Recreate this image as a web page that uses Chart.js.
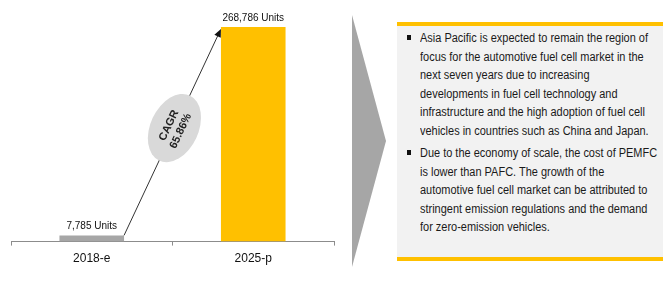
<!DOCTYPE html>
<html>
<head>
<meta charset="utf-8">
<script src="https://cdn.jsdelivr.net/npm/chart.js@4.4.1/dist/chart.umd.min.js"></script>
<style>
  body { margin: 0; background: #fff; }
  #wrap { position: relative; width: 670px; height: 281px; overflow: hidden; }
  #chartBox { position: absolute; left: 0; top: 0; width: 340px; height: 281px; }
  #chevron { position: absolute; left: 352px; top: 15px; width: 34px; height: 252px;
    background: #a6a6a6; clip-path: polygon(0 0, 100% 50%, 0 100%); }
  #panel { position: absolute; left: 397px; top: 22px; width: 266px; height: 231px;
    background: #f2f2f2; border-top: 4px solid #ffc000; border-bottom: 4px solid #ffc000; }
  .point { position: absolute; left: 23px; white-space: nowrap;
    font-family: 'Liberation Sans', Arial, sans-serif;
    font-size: 12px; line-height: 18.5px; color: #1a1a1a; }
  .point span { display: inline-block; transform-origin: 0 50%; }
  .point::before { content: ''; position: absolute; left: -13px; top: 6px; width: 4px; height: 5px; background: #111; }
</style>
</head>
<body>
<div id="wrap">
  <div id="chartBox"><canvas id="marketChart" width="340" height="281"></canvas></div>
  <div id="chevron"></div>
  <div id="panel"></div>
</div>
<script>
const categories = ['2018-e', '2025-p'];
const units = [7785, 268786];
const valueLabels = ['7,785 Units', '268,786 Units'];
const barColors = ['#a6a6a6', '#ffc000'];
const cagrLines = ['CAGR', '65.86%'];
const bulletOne = [
    'Asia Pacific is expected to remain the region of',
    'focus for the automotive fuel cell market in the',
    'next seven years due to increasing',
    'developments in fuel cell technology and',
    'infrastructure and the high adoption of fuel cell',
    'vehicles in countries such as China and Japan.'
];
const bulletTwo = [
    'Due to the economy of scale, the cost of PEMFC',
    'is lower than PAFC. The growth of the',
    'automotive fuel cell market can be attributed to',
    'stringent emission regulations and the demand',
    'for zero-emission vehicles.'
];

// text panel on the right, squeezed to the narrow face of the original
const panel = document.getElementById('panel');
const spans = [];
[[bulletOne, 3], [bulletTwo, 118]].forEach(([lines, top]) => {
    const div = document.createElement('div');
    div.className = 'point';
    div.style.top = top + 'px';
    div.innerHTML = lines.map(l => '<span>' + l + '</span>').join('<br>');
    panel.appendChild(div);
    spans.push(...div.querySelectorAll('span'));
});
const squeeze = 228 / spans[0].getBoundingClientRect().width;
spans.forEach(s => { s.style.transform = 'scaleX(' + squeeze + ')'; });

const annotate = {
    id: 'annotate',
    afterDatasetsDraw(chart) {
        const c = chart.ctx;
        const bars = chart.getDatasetMeta(0).data;

        // value labels
        c.save();
        c.font = '10px Arial, "Liberation Sans", sans-serif';
        c.fillStyle = '#111';
        c.textAlign = 'center';
        c.textBaseline = 'alphabetic';
        bars.forEach((bar, i) => {
            c.fillText(valueLabels[i], bar.x, bar.y - 6);
        });

        // growth arrow
        const b0 = bars[0], b1 = bars[1];
        const x0 = b0.x + b0.width / 2, y0 = b0.y;
        const x1 = b1.x - b1.width / 2, y1 = b1.y + 2;
        const ang = Math.atan2(y1 - y0, x1 - x0);
        c.strokeStyle = '#333';
        c.lineWidth = 1;
        c.beginPath();
        c.moveTo(x0, y0);
        c.lineTo(x1 - 7 * Math.cos(ang), y1 - 7 * Math.sin(ang));
        c.stroke();
        c.fillStyle = '#111';
        c.beginPath();
        c.moveTo(x1, y1);
        c.lineTo(x1 - 8 * Math.cos(ang) + 3.5 * Math.sin(ang), y1 - 8 * Math.sin(ang) - 3.5 * Math.cos(ang));
        c.lineTo(x1 - 8 * Math.cos(ang) - 3.5 * Math.sin(ang), y1 - 8 * Math.sin(ang) + 3.5 * Math.cos(ang));
        c.closePath();
        c.fill();

        // CAGR ellipse sitting on the arrow
        const cx = x0 + (x1 - x0) * 0.52, cy = y0 + (y1 - y0) * 0.52;
        c.fillStyle = '#d9d9d9';
        c.beginPath();
        c.ellipse(cx, cy, 36, 24, ang, 0, Math.PI * 2);
        c.fill();
        c.translate(cx, cy);
        c.rotate(ang);
        c.fillStyle = '#222';
        c.font = 'bold 11px Arial, "Liberation Sans", sans-serif';
        c.textBaseline = 'middle';
        c.fillText(cagrLines[0], 0, -6);
        c.fillText(cagrLines[1], 0, 7);
        c.restore();
    }
};

new Chart(document.getElementById('marketChart'), {
    type: 'bar',
    data: {
        labels: categories,
        datasets: [{
            data: units,
            backgroundColor: barColors,
            barPercentage: 0.8,
            categoryPercentage: 0.5
        }]
    },
    options: {
        responsive: false,
        animation: false,
        layout: { padding: { left: 11, right: 6, top: 10, bottom: 9 } },
        plugins: { legend: { display: false }, tooltip: { enabled: false } },
        scales: {
            y: { display: false, min: 0, max: 290000 },
            x: {
                border: { display: true, color: '#8c8c8c' },
                grid: { drawOnChartArea: false, drawTicks: true, tickLength: 4, color: '#8c8c8c' },
                ticks: { color: '#111', padding: 6, font: { family: 'Arial, "Liberation Sans"', size: 12 } }
            }
        }
    },
    plugins: [annotate]
});
</script>
</body>
</html>
